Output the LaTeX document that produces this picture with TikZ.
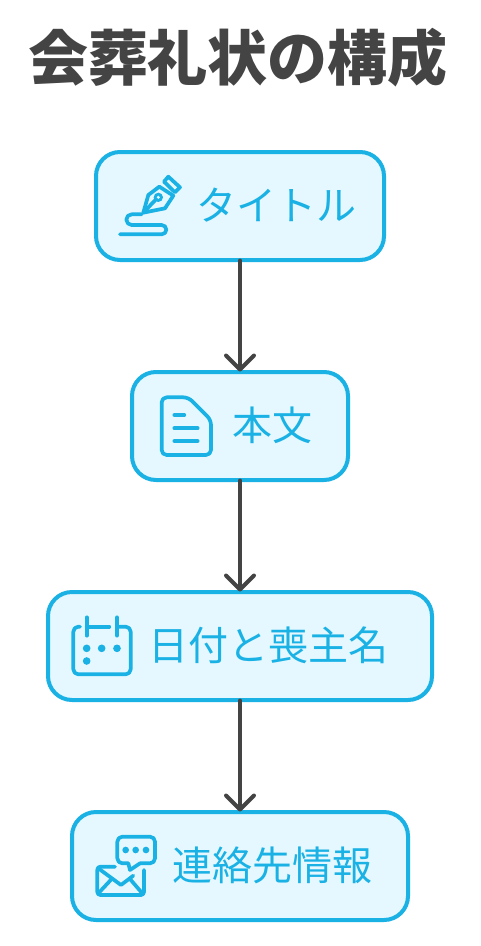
\documentclass[tikz,border=0pt]{standalone}
\usepackage{fontspec}
\setmainfont{Noto Sans CJK JP}
\usetikzlibrary{arrows.meta}
\definecolor{cyanline}{HTML}{1AB1E5}
\definecolor{cyanfill}{HTML}{E5F8FF}
\definecolor{ink}{HTML}{444444}
\tikzset{
  boxnode/.style={draw=cyanline,fill=cyanfill,line width=4pt,rounded corners=24pt,minimum height=108pt,inner sep=0pt,outer sep=0.5pt},
  labelnode/.style={text=cyanline,inner sep=0pt,font=\fontsize{40}{40}\selectfont},
  titlenode/.style={text=ink,inner sep=0pt,font=\fontsize{60}{60}\selectfont\bfseries},
  flow/.style={draw=ink,line width=4pt,line cap=round,-{Straight Barb[length=14pt,width=28pt,line width=4pt,round]}},
  iconline/.style={draw=cyanline,line width=3.7pt,line cap=round,line join=round},
  icondot/.style={fill=cyanline,draw=none},
  zoomA/.style={shift={(90,145)},x=0.3333pt,y=-0.3333pt},
  zoomB/.style={shift={(125,340)},x=0.3333pt,y=-0.3333pt},
  zoomC/.style={shift={(40,585)},x=0.3333pt,y=-0.3333pt},
  zoomD/.style={shift={(65,805)},x=0.3333pt,y=-0.3333pt}
}
\begin{document}
\begin{tikzpicture}[x=1pt,y=-1pt]
\useasboundingbox (0,0) rectangle (481,946);
\fill[white] (0,0) rectangle (481,946);
\node[titlenode] (title) at (238,58) {会葬礼状の構成};
\node[boxnode,minimum width=288pt] (a) at (240,206) {};
\node[boxnode,minimum width=216pt] (b) at (240,426) {};
\node[boxnode,minimum width=384pt] (c) at (240,646) {};
\node[boxnode,minimum width=336pt] (d) at (240,866) {};
\draw[flow] (a) -- (b);
\draw[flow] (b) -- (c);
\draw[flow] (c) -- (d);
\node[labelnode] (ta) at (276,205) {タイトル};
\node[labelnode] (tb) at (272,425) {本文};
\node[labelnode] (tc) at (268,645) {日付と喪主名};
\node[labelnode] (td) at (272,865) {連絡先情報};
% pen icon
\begin{scope}[zoomA]
\draw[iconline] (160,203) -- (175,150) -- (208,125) -- (250,152) -- (225,190) -- cycle;
\draw[iconline] (235,95) -- (270,127) -- (255,142) -- (222,110) -- cycle;
\draw[iconline] (160,203) -- (198,163);
\fill[icondot] (205,157) circle (14);
\fill[cyanfill] (205,157) circle (5);
\draw[iconline] (155,208) -- (125,208) arc[start angle=-90,end angle=-270,radius=16] -- (215,240) arc[start angle=-90,end angle=90,radius=14] -- (90,268);
\end{scope}
% document icon
\begin{scope}[zoomB]
\draw[iconline,rounded corners=5pt] (110,172) -- (190,172) -- (258,240) -- (258,345) -- (110,345) -- cycle;
\draw[iconline] (148,225) -- (178,225);
\draw[iconline] (148,265) -- (218,265);
\draw[iconline] (148,303) -- (218,303);
\end{scope}
% calendar icon
\begin{scope}[zoomC]
\draw[iconline,rounded corners=5pt] (120,125) -- (100,125) -- (100,268) -- (272,268) -- (272,125) -- (231,125);
\draw[iconline] (140,125) -- (208,125);
\draw[iconline] (140,97) -- (140,152);
\draw[iconline] (231,97) -- (231,152);
\fill[icondot] (140,190) circle (11.5);
\fill[icondot] (185,190) circle (11.5);
\fill[icondot] (231,190) circle (11.5);
\fill[icondot] (140,228) circle (11.5);
\end{scope}
% mail icon
\begin{scope}[zoomD]
\draw[iconline,rounded corners=3pt] (150,185) -- (97,185) -- (97,270) -- (237,270) -- (237,195);
\draw[iconline] (100,190) -- (168,240) -- (205,212);
\draw[iconline] (100,265) -- (140,222);
\draw[iconline] (232,265) -- (195,222);
\draw[iconline,rounded corners=5pt] (190,175) -- (157,175) -- (157,95) -- (270,95) -- (270,175) -- (225,175);
\draw[iconline] (190,175) -- (195,195) -- (225,175);
\fill[icondot] (182,135) circle (10);
\fill[icondot] (212,135) circle (10);
\fill[icondot] (243,135) circle (10);
\end{scope}
\end{tikzpicture}
\end{document}
